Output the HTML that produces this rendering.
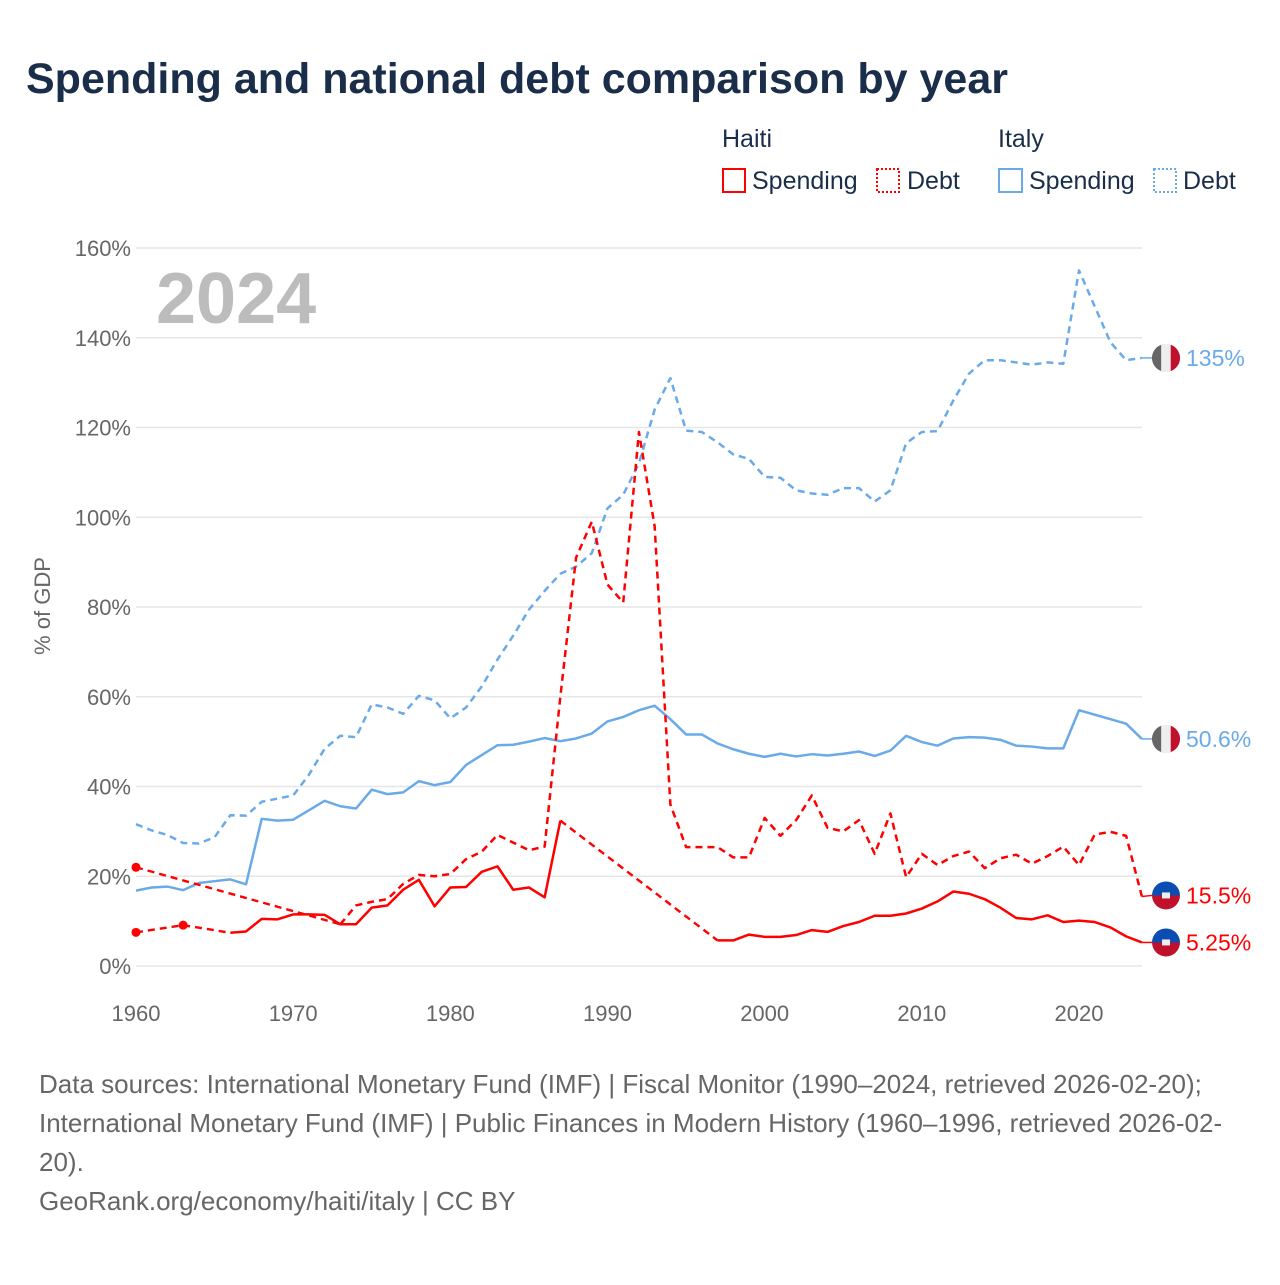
<!DOCTYPE html>
<html><head><meta charset="utf-8">
<style>
html,body{margin:0;padding:0;background:#fff;}
body{width:1280px;height:1280px;position:relative;font-family:"Liberation Sans",sans-serif;overflow:hidden;}
svg text{font-family:"Liberation Sans",sans-serif;}
</style></head>
<body>
<svg id="chart" width="1280" height="1280" xmlns="http://www.w3.org/2000/svg">
<text x="26" y="93" font-size="43" font-weight="bold" fill="#1a2e4a">Spending and national debt comparison by year</text>
<g font-size="25" fill="#1a2e4a">
<text x="722" y="147">Haiti</text>
<text x="998" y="147">Italy</text>
<g><rect x="723" y="169" width="22" height="23" fill="none" stroke="#ff0000" stroke-width="2"/><text x="752" y="189">Spending</text></g>
<g><rect x="877" y="169" width="22" height="23" fill="none" stroke="#ff0000" stroke-width="2" stroke-dasharray="2,2"/><text x="907" y="189">Debt</text></g>
<g><rect x="999" y="169" width="23" height="23" fill="none" stroke="#6aaae8" stroke-width="2"/><text x="1029" y="189">Spending</text></g>
<g><rect x="1154" y="169" width="22" height="23" fill="none" stroke="#6aaae8" stroke-width="2" stroke-dasharray="2,2"/><text x="1183" y="189">Debt</text></g>
</g>
<text x="156" y="323" font-size="72" font-weight="bold" fill="#bcbcbc">2024</text>
<text transform="translate(50,606) rotate(-90)" text-anchor="middle" font-size="22" fill="#666">% of GDP</text>
<g id="grid"></g><g id="series"></g><g id="ends"></g>
<g font-size="26" fill="#666">
<text x="39" y="1093">Data sources: International Monetary Fund (IMF) | Fiscal Monitor (1990–2024, retrieved 2026-02-20);</text>
<text x="39" y="1132">International Monetary Fund (IMF) | Public Finances in Modern History (1960–1996, retrieved 2026-02-</text>
<text x="39" y="1171">20).</text>
<text x="39" y="1210">GeoRank.org/economy/haiti/italy | CC BY</text>
</g>
</svg>
<script>
const years=[];for(let y=1960;y<=2024;y++)years.push(y);
const yTicks=[0,20,40,60,80,100,120,140,160];
const xTicks=[1960,1970,1980,1990,2000,2010,2020];
const haitiSpending=[7.5,null,null,9.1,null,null,7.4,7.7,10.5,10.4,11.5,11.5,11.4,9.3,9.3,13.0,13.5,17,19.2,13.3,17.5,17.6,21,22.2,17,17.5,15.3,32.4,null,null,null,null,null,null,null,null,null,5.7,5.7,7.0,6.5,6.5,6.9,8.0,7.6,8.9,9.8,11.2,11.2,11.7,12.8,14.4,16.6,16.1,14.9,13.0,10.7,10.4,11.3,9.8,10.1,9.8,8.6,6.6,5.25];
const haitiDebt=[22,null,null,null,null,null,null,null,null,null,null,null,null,9.3,13.5,14.3,14.9,18.3,20.3,20.0,20.5,23.8,25.5,29.2,27.5,25.8,26.6,60,91,99,85,81,119,98,36,26.5,26.5,26.5,24.2,24.2,33,29,32.5,38,30.8,30,32.5,25,34,19.8,25,22.5,24.5,25.5,21.8,24,24.8,22.8,24.5,26.6,22.5,29.3,29.9,29,15.5];
const italySpending=[16.8,17.5,17.7,16.9,18.5,18.9,19.3,18.2,32.8,32.4,32.6,34.7,36.8,35.6,35.1,39.3,38.3,38.7,41.2,40.3,41,44.8,47,49.2,49.3,50,50.8,50.1,50.7,51.8,54.5,55.5,57,58,55,51.6,51.6,49.6,48.3,47.3,46.6,47.3,46.7,47.2,46.9,47.3,47.8,46.8,48,51.3,49.9,49.1,50.7,51,50.9,50.4,49.1,48.9,48.5,48.5,57,56,55,54,50.6];
const italyDebt=[31.6,30.2,29.2,27.4,27.3,28.7,33.6,33.5,36.6,37.3,38.0,42.6,48.4,51.3,51,58.3,57.6,56.2,60.2,59.2,55.2,57.6,62.3,68.3,73.6,79.4,83.6,87.4,89,92,102,105,112,124,131,119.3,119,116.7,114,113,109,108.8,106,105.3,105,106.5,106.5,103.5,106,116.5,119,119.2,126,132,135,135,134.5,134,134.5,134.2,155,147,139,135,135.5];
const endLabels=["5.25%","15.5%","50.6%","135%"];
const NS="http://www.w3.org/2000/svg";
const X=y=>136+(y-1960)*(943/60);
const Y=v=>966-v*(718/160);
function mk(tag,attrs,parent){const e=document.createElementNS(NS,tag);for(const k in attrs)e.setAttribute(k,attrs[k]);parent.appendChild(e);return e;}
const grid=document.getElementById('grid');
yTicks.forEach(t=>{
 const l=mk('line',{x1:136,x2:1142,y1:Y(t),y2:Y(t),stroke:'#e6e6e6','stroke-width':1.5},grid);
 
 
 const tx=mk('text',{x:131,y:Y(t)+8,'text-anchor':'end','font-size':22,fill:'#666'},grid);
 tx.textContent=t+'%';
 
 
});
xTicks.forEach(t=>{
 const tx=mk('text',{x:X(t),y:1021,'text-anchor':'middle','font-size':22,fill:'#666'},grid);
 tx.textContent=t;
 
 
});
const S=document.getElementById('series');
function draw(vals,color,dashed,name){
 const g=mk('g',{},S);
 
 
 const pts=[];vals.forEach((v,i)=>{if(v!==null)pts.push([X(years[i]),Y(v),i]);});
 let seg=[];const segs=[];
 for(let k=0;k<pts.length;k++){
  if(k>0&&pts[k][2]-pts[k-1][2]>1){
   if(seg.length)segs.push(seg);
   const c=mk('path',{d:`M${pts[k-1][0]},${pts[k-1][1]}L${pts[k][0]},${pts[k][1]}`,fill:'none',stroke:color,'stroke-width':2.4,'stroke-dasharray':'7,5'},g);
   
   
   seg=[];
  }
  seg.push(pts[k]);
 }
 if(seg.length)segs.push(seg);
 segs.forEach(s=>{
  if(s.length===1){const d=mk('circle',{cx:s[0][0],cy:s[0][1],r:4.5,fill:color},g);
   
   return;}
  const p=mk('path',{d:'M'+s.map(q=>q[0]+','+q[1]).join('L'),fill:'none',stroke:color,'stroke-width':2.5,'stroke-linejoin':'round'},g);
  if(dashed)p.setAttribute('stroke-dasharray','7,5');
  
  
 });
}
draw(italyDebt,'#6aaae8',true,'italy-debt-line');
draw(italySpending,'#6aaae8',false,'italy-spending-line');
draw(haitiDebt,'#ff0000',true,'haiti-debt-line');
draw(haitiSpending,'#ff0000',false,'haiti-spending-line');
const E=document.getElementById('ends');
const ends=[[haitiSpending,'#ff0000','haiti',0],[haitiDebt,'#ff0000','haiti',1],[italySpending,'#6aaae8','italy',2],[italyDebt,'#6aaae8','italy',3]];
ends.forEach(([arr,color,c,i])=>{
 const v=arr[arr.length-1];let y=Y(v);
 if(i===1)y=Math.min(y,Y(5.25)-47);
 const g=mk('g',{},E);
 
 
 mk('line',{x1:X(2024),y1:Y(v),x2:1152,y2:y,stroke:color,'stroke-width':1.5},g);
 const cx=1166,r=14;
 if(c==='italy'){
  mk('path',{d:`M${cx-4.7},${y-13.2}A${r},${r} 0 0 0 ${cx-4.7},${y+13.2}Z`,fill:'#666'},g);
  mk('rect',{x:cx-4.7,y:y-14,width:9.4,height:28,fill:'#eee'},g);
  mk('path',{d:`M${cx+4.7},${y-13.2}A${r},${r} 0 0 1 ${cx+4.7},${y+13.2}Z`,fill:'#c0112c'},g);
 }else{
  mk('path',{d:`M${cx-r},${y}A${r},${r} 0 0 1 ${cx+r},${y}Z`,fill:'#0b4db0'},g);
  mk('path',{d:`M${cx-r},${y}A${r},${r} 0 0 0 ${cx+r},${y}Z`,fill:'#c0112c'},g);
  mk('rect',{x:cx-4,y:y-3,width:8,height:6,fill:'#eee'},g);
 }
 const t=mk('text',{x:1186,y:y+8,'font-size':23,fill:color},g);
 t.textContent=endLabels[i];
});
</script>
</body></html>
